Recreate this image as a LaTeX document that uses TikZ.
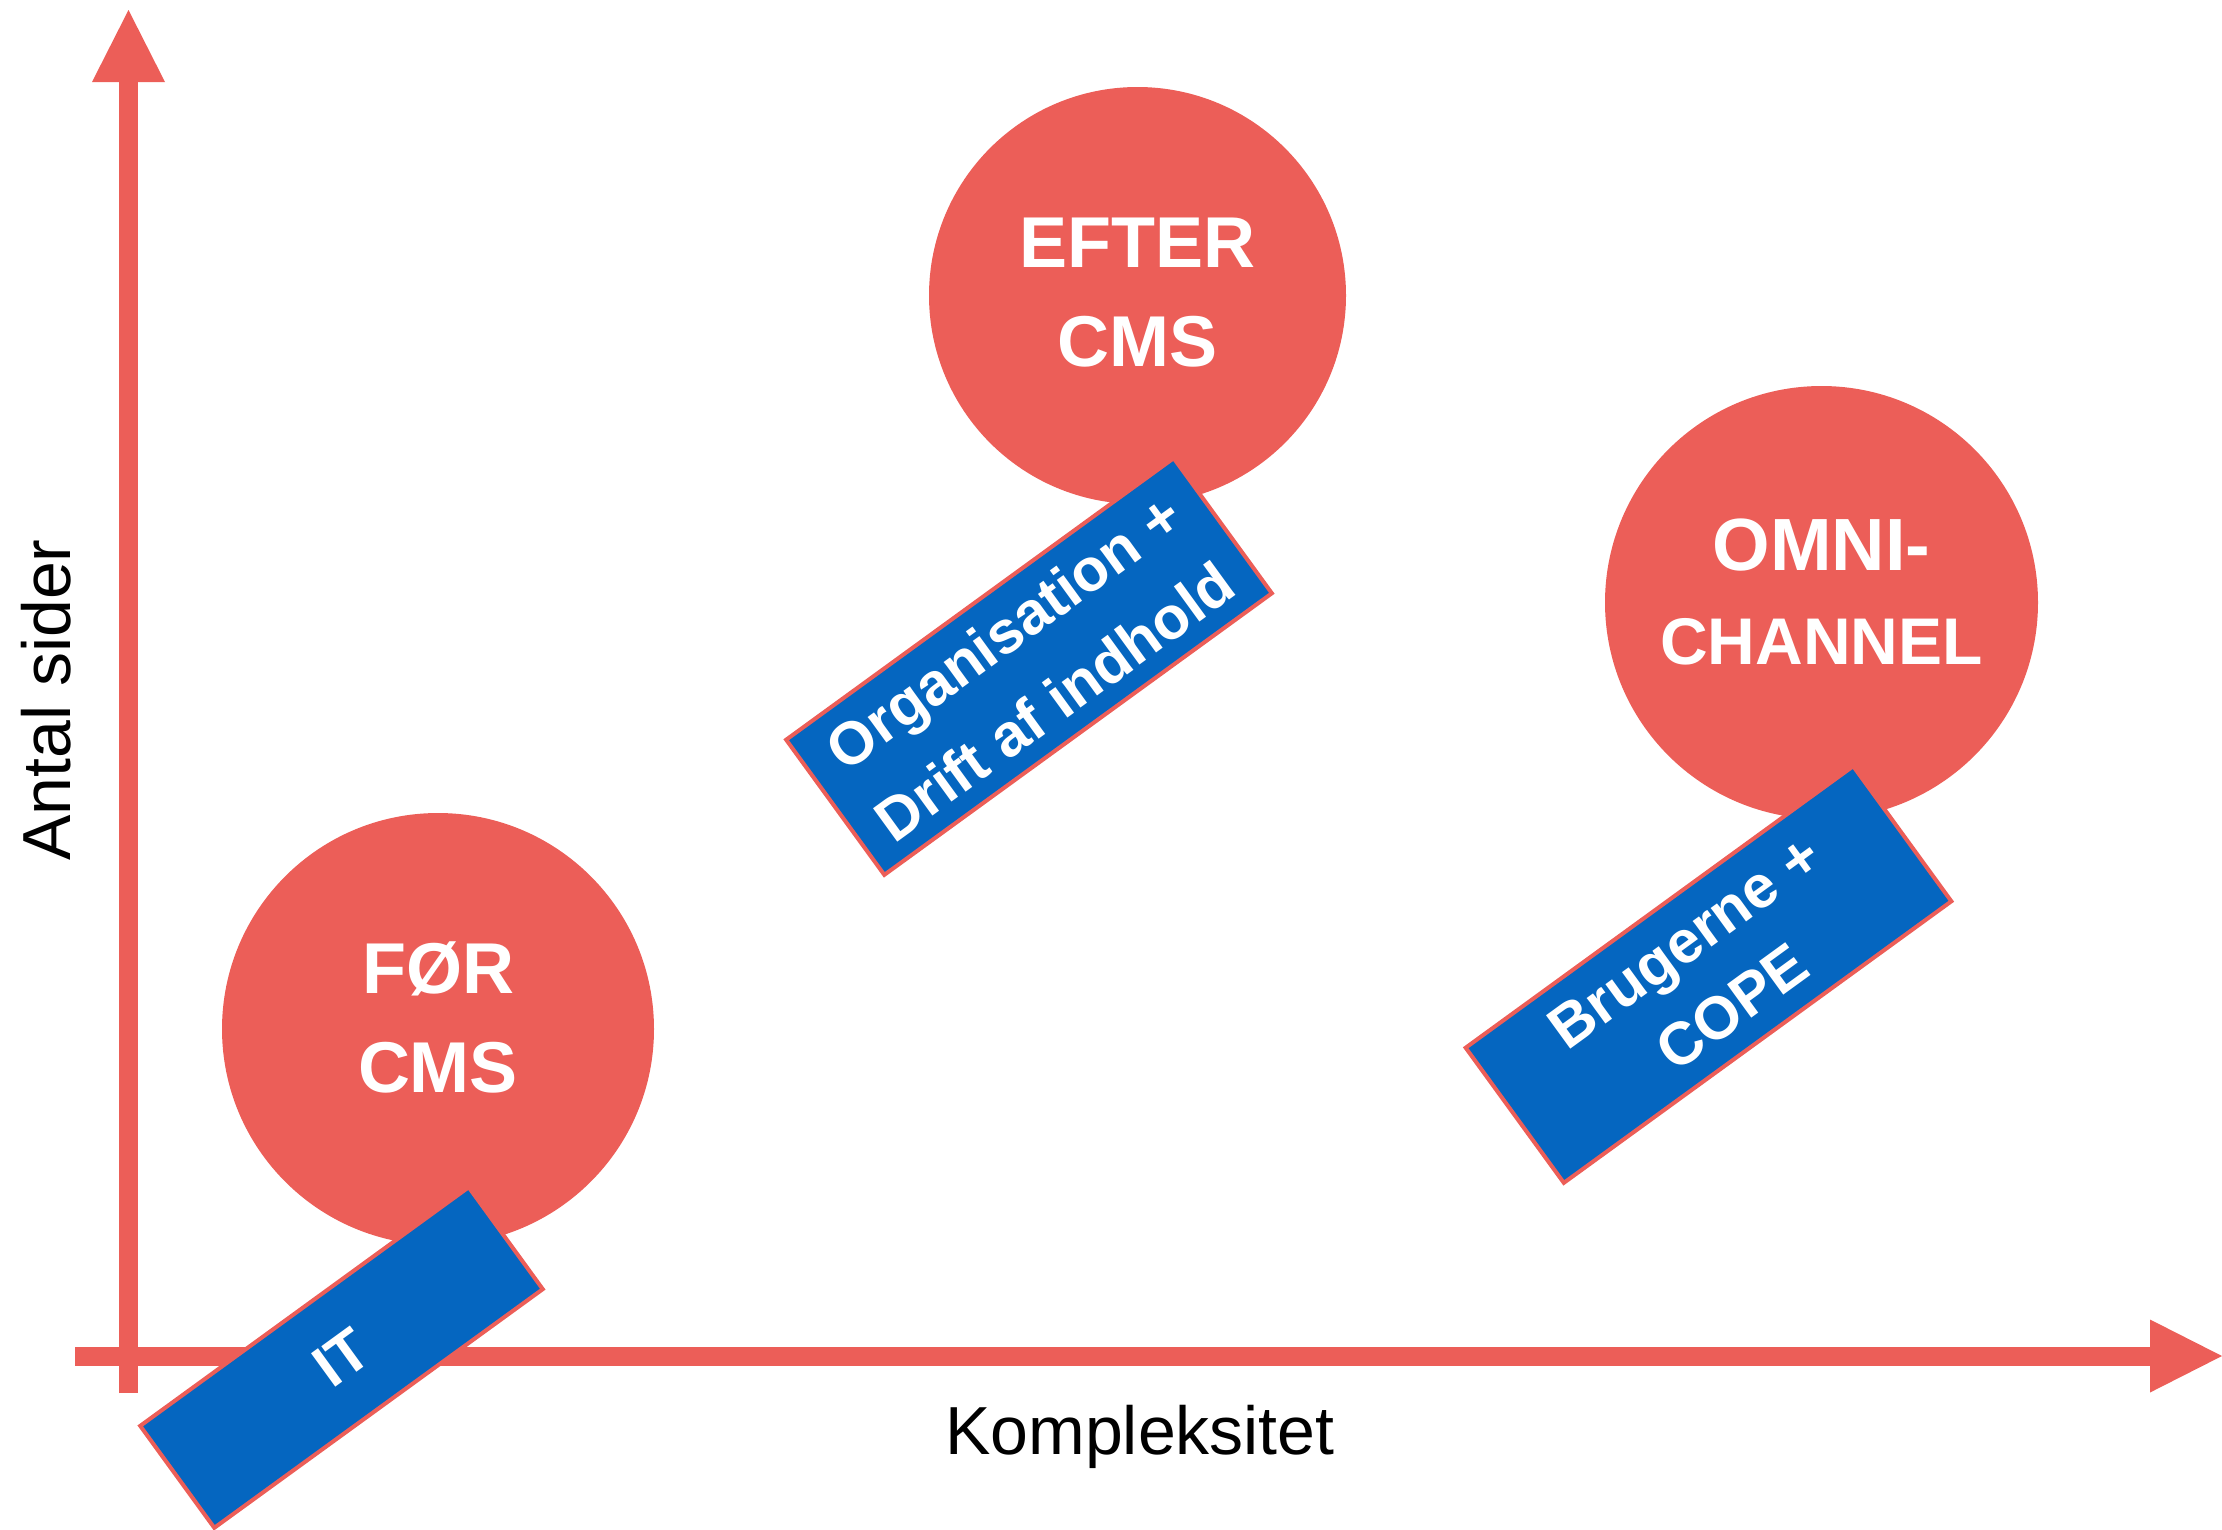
\documentclass[tikz,border=0pt]{standalone}
\usepackage{fontspec}
\setmainfont{Liberation Sans}
\usetikzlibrary{arrows.meta,calc}
\definecolor{cred}{RGB}{236,94,88}
\definecolor{cblue}{RGB}{5,102,192}
\begin{document}
\begin{tikzpicture}[x=1pt,y=-1pt,
  axis/.style={draw=cred,line width=19pt,-{Triangle[length=72pt,width=73pt,line width=0pt]}},
  bubble/.style={circle,fill=cred,inner sep=0pt,text=white,align=center,
    font=\fontsize{72}{99}\selectfont\bfseries},
  tag/.style={rectangle,fill=cblue,draw=cred,line width=4pt,rotate=36,inner sep=0pt,
    text=white,align=center,font=\fontsize{60}{86}\selectfont\bfseries},
  axlabel/.style={text=black,inner sep=0pt,font=\fontsize{68}{80}\selectfont}]
\useasboundingbox (0,0) rectangle (2222,1529);
% axes
\coordinate (ybot) at (128.5,1393);
\coordinate (ytop) at (128.5,10);
\coordinate (xleft) at (75,1356);
\coordinate (xright) at (2222,1356);
\draw[axis] (ybot) -- (ytop);
\draw[axis] (xleft) -- (xright);
\node[axlabel,anchor=base] (xlab) at (1140,1454) {Kompleksitet};
\node[axlabel,anchor=base,rotate=90] (ylab) at (70,700) {Antal sider};
% circles
\node[bubble,minimum size=432pt,text depth=23pt] (foer) at (438,1029) {FØR\\CMS};
\node[bubble,minimum size=417pt,text depth=6pt] (efter) at (1137.5,295.5) {EFTER\\CMS};
\node[bubble,minimum size=433pt,text depth=22pt,font=\fontsize{66}{94}\selectfont\bfseries] (omni) at (1821.5,602.5) {{\fontsize{74}{94}\selectfont OMNI-}\\CHANNEL};
% tags
\node[tag,minimum width=406pt,minimum height=126pt] (it) at (341.5,1357.5) {IT};
\node[tag,minimum width=479pt,minimum height=167pt] (org) at (1029,666.5) {Organisation +\\Drift af indhold};
\node[tag,minimum width=479pt,minimum height=167pt,font=\fontsize{60}{81}\selectfont\bfseries] (brug) at (1708.5,974.5) {Brugerne +\\COPE};
\end{tikzpicture}
\end{document}
